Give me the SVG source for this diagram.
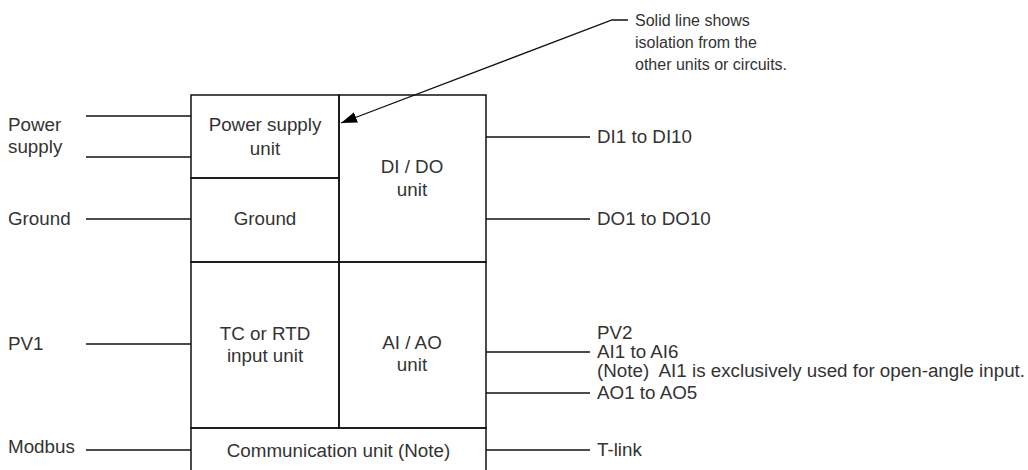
<svg xmlns="http://www.w3.org/2000/svg" width="1028" height="470" viewBox="0 0 1028 470">
<style>
text{font-family:"Liberation Sans",Arial,sans-serif;font-size:18.8px;fill:#333}
.c{text-anchor:middle}
.s{font-size:16px}
.ln{stroke:#111;stroke-width:1.3;fill:none}
.bx{stroke:#111;stroke-width:1.5;fill:none}
</style>
<defs>
<marker id="ah" viewBox="0 0 16 11" refX="16" refY="5.5" markerWidth="16" markerHeight="11" markerUnits="userSpaceOnUse" orient="auto"><path d="M0,0 L16,5.5 L0,11 z" fill="#000"/></marker>
</defs>
<rect width="1028" height="470" fill="#fff"/>
<g id="power-supply-unit"><rect class="bx" x="191" y="95" width="148" height="83"/><text class="c" x="265" y="131">Power supply</text><text class="c" x="265" y="155">unit</text></g>
<g id="ground-unit"><rect class="bx" x="191" y="178" width="148" height="84"/><text class="c" x="265" y="225">Ground</text></g>
<g id="dido-unit"><rect class="bx" x="339" y="95" width="147" height="167"/><text class="c" x="412" y="173">DI / DO</text><text class="c" x="412" y="196">unit</text></g>
<g id="tc-rtd-unit"><rect class="bx" x="191" y="262" width="148" height="166"/><text class="c" x="265" y="340">TC or RTD</text><text class="c" x="265" y="362">input unit</text></g>
<g id="aiao-unit"><rect class="bx" x="339" y="262" width="147" height="166"/><text class="c" x="412" y="349">AI / AO</text><text class="c" x="412" y="371">unit</text></g>
<g id="comm-unit"><rect class="bx" x="191" y="428" width="295" height="60"/><text class="c" x="338.5" y="457">Communication unit (Note)</text></g>
<g id="connectors">
<line class="ln" x1="86" y1="116" x2="191" y2="116"/>
<line class="ln" x1="86" y1="157" x2="191" y2="157"/>
<line class="ln" x1="86" y1="219" x2="191" y2="219"/>
<line class="ln" x1="86" y1="344" x2="191" y2="344"/>
<line class="ln" x1="86" y1="450" x2="191" y2="450"/>
<line class="ln" x1="486" y1="137" x2="590" y2="137"/>
<line class="ln" x1="486" y1="219" x2="590" y2="219"/>
<line class="ln" x1="486" y1="352" x2="590" y2="352"/>
<line class="ln" x1="486" y1="393" x2="590" y2="393"/>
<line class="ln" x1="486" y1="450" x2="590" y2="450"/>
<polyline class="ln" points="628,20 612,20 341,123" marker-end="url(#ah)"/>
</g>
<g id="labels">
<text x="8" y="131">Power</text>
<text x="8" y="153">supply</text>
<text x="8" y="225">Ground</text>
<text x="8" y="350">PV1</text>
<text x="8" y="453">Modbus</text>
<text x="597" y="143">DI1 to DI10</text>
<text x="597" y="225">DO1 to DO10</text>
<text x="597" y="339">PV2</text>
<text x="597" y="358">AI1 to AI6</text>
<text x="597" y="377" xml:space="preserve">(Note)  AI1 is exclusively used for open-angle input.</text>
<text x="597" y="399">AO1 to AO5</text>
<text x="597" y="456">T-link</text>
<text class="s" x="635" y="26">Solid line shows</text>
<text class="s" x="635" y="48">isolation from the</text>
<text class="s" x="635" y="70">other units or circuits.</text>
</g>
</svg>
